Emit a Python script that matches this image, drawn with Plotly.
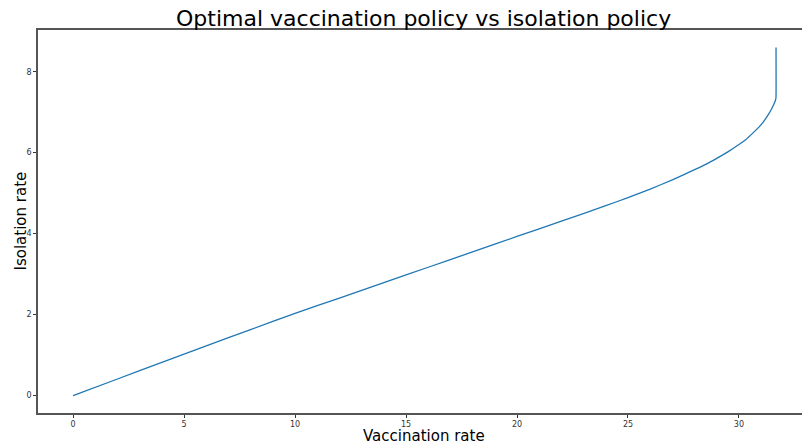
import plotly.graph_objects as go

vaccination_rate = [0, 2, 4, 6, 8, 10, 12, 14, 16, 18, 20, 22, 24, 25, 26, 27, 28, 28.5, 29, 29.5,
                    30, 30.3, 30.6, 30.9, 31.1, 31.3, 31.45, 31.55, 31.62, 31.66, 31.67, 31.67]
isolation_rate = [0, 0.41, 0.82, 1.23, 1.63, 2.03, 2.41, 2.79, 3.17, 3.55, 3.93, 4.31, 4.69,
                  4.89, 5.1, 5.33, 5.58, 5.71, 5.86, 6.02, 6.2, 6.32, 6.47, 6.63, 6.76, 6.92,
                  7.06, 7.17, 7.26, 7.33, 7.4, 8.6]

x_ticks = [0, 5, 10, 15, 20, 25, 30]
y_ticks = [0, 2, 4, 6, 8]

FONT = "DejaVu Sans, Liberation Sans, sans-serif"

fig = go.Figure()
fig.add_trace(go.Scatter(
    x=vaccination_rate, y=isolation_rate, mode="lines",
    line=dict(color="#1f77b4", width=1.3, shape="spline", smoothing=0.5), showlegend=False,
))

axis_common = dict(
    showgrid=False, zeroline=False, showline=True, linecolor="#555555", linewidth=1.5,
    ticks="outside", ticklen=3, tickwidth=1, tickcolor="#333333", automargin=False,
    tickfont=dict(family=FONT, size=8, color="#333333"),
)

fig.update_layout(
    width=802, height=445,
    margin=dict(l=38, r=0, t=30, b=32, autoexpand=False),
    paper_bgcolor="white", plot_bgcolor="white",
    font=dict(family=FONT),
    xaxis=dict(range=[-1.58, 32.84], tickvals=x_ticks, mirror=True, **axis_common),
    yaxis=dict(range=[-0.43, 9.03], tickvals=y_ticks, **axis_common),
    annotations=[
        dict(text="Optimal vaccination policy vs isolation policy", xref="paper", yref="paper",
             x=(424 - 38) / 764, y=1, yshift=12, xanchor="center", yanchor="middle", showarrow=False,
             font=dict(family=FONT, size=22, color="black")),
        dict(text="Vaccination rate", xref="paper", yref="paper", borderpad=0,
             x=(424 - 38) / 764, y=0, yshift=-23, xanchor="center", yanchor="middle", showarrow=False,
             font=dict(family=FONT, size=15, color="black")),
        dict(text="Isolation rate", xref="paper", yref="paper", textangle=-90,
             x=0, xshift=-18, y=0.5, xanchor="center", yanchor="middle", showarrow=False,
             font=dict(family=FONT, size=15, color="black")),
    ],
)

fig.write_html("out.html", config={"displayModeBar": False},
               post_script="document.body.style.margin='0';document.body.style.overflow='hidden';")
